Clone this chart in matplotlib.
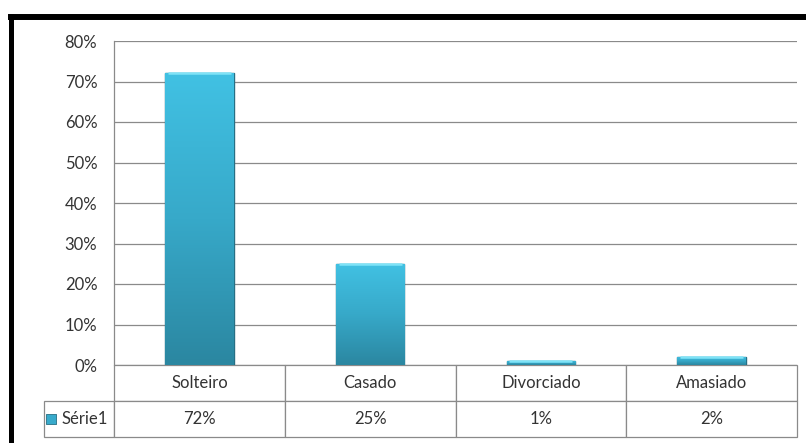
import numpy as np
import matplotlib.pyplot as plt
from matplotlib.colors import LinearSegmentedColormap
from matplotlib.lines import Line2D

plt.rcParams["font.family"] = ["Lato", "DejaVu Sans"]

# =========================
# DATA
# =========================

categories = ["Solteiro", "Casado", "Divorciado", "Amasiado"]
values = [72, 25, 1, 2]
value_labels = ["72%", "25%", "1%", "2%"]
series_name = "Série1"
y_ticks = [0, 10, 20, 30, 40, 50, 60, 70, 80]

# =========================
# FIGURE
# =========================

W, H = 806, 443
fig = plt.figure(figsize=(W / 100, H / 100), dpi=100)

ax_left, ax_top, ax_right, ax_bottom = 114, 41, 797, 365
ax = fig.add_axes([
    ax_left / W,
    1 - ax_bottom / H,
    (ax_right - ax_left) / W,
    (ax_bottom - ax_top) / H
])

grid_col = "#8a8a8a"
text_col = "#333333"

x = np.arange(len(categories))
bars = ax.bar(x, values, width=0.4, color="#3cb8da",
              edgecolor="#276f84", linewidth=1.0, zorder=3)

# vertical gradient on each bar
grad = LinearSegmentedColormap.from_list(
    "bar_grad", ["#2b87a1", "#37a9c9", "#41c1e3"]
)
for b in bars:
    x0, y0 = b.get_x(), b.get_y()
    w, h = b.get_width(), b.get_height()
    img = ax.imshow(
        np.linspace(0, 1, 100).reshape(-1, 1),
        cmap=grad, aspect="auto", origin="lower",
        extent=[x0, x0 + w, y0, y0 + h], zorder=3.5
    )
    img.set_clip_path(b)
    # light bevel along the top edge
    ax.plot([x0 + w * 0.04, x0 + w * 0.96], [y0 + h, y0 + h],
            color="#7fe3f7", linewidth=1.8, zorder=4,
            solid_capstyle="butt")

ax.set_xlim(-0.5, len(categories) - 0.5)
ax.set_ylim(0, 80)
ax.set_yticks(y_ticks)
ax.set_yticklabels([f"{t}%" for t in y_ticks])
ax.tick_params(axis="y", length=0, pad=12, labelsize=12, labelcolor=text_col)
ax.set_xticks([])

ax.yaxis.grid(True, color=grid_col, linewidth=0.9, zorder=0)
ax.set_axisbelow(True)
for side in ["top", "right", "bottom"]:
    ax.spines[side].set_visible(False)
ax.spines["left"].set_color(grid_col)
ax.spines["left"].set_linewidth(0.9)

# =========================
# DATA TABLE
# =========================

tab_left, tab_bottom = 42, 437
col_w = 0.25
label_w = (ax_left - tab_left) / (ax_right - ax_left)
ax_h = ax_bottom - ax_top
# bbox only covers the value columns, the row label hangs off to the left
bbox = [0, -(tab_bottom - ax_bottom) / ax_h, 1, (tab_bottom - ax_bottom) / ax_h]

tbl = ax.table(
    cellText=[value_labels],
    rowLabels=[series_name],
    colLabels=categories,
    colWidths=[col_w] * len(categories),
    cellLoc="center",
    rowLoc="left",
    bbox=bbox
)
label_cell = tbl[1, -1]
label_cell.set_width(label_w)
tbl.auto_set_font_size(False)
tbl.set_fontsize(12)
for (r, c), cell in tbl.get_celld().items():
    cell.set_edgecolor(grid_col)
    cell.set_linewidth(0.9)
    cell.get_text().set_color(text_col)
label_cell.PAD = 0.25

# stretch the row label cell so it starts at tab_left
fig.canvas.draw()
ext = label_cell.get_window_extent(fig.canvas.get_renderer())
label_cell.set_width(label_cell.get_width() * (ax_left - tab_left) / ext.width)
fig.canvas.draw()
ext = label_cell.get_window_extent(fig.canvas.get_renderer())

# legend key inside the row label cell
key_x = ext.x0 + 7
key_y = (ext.y0 + ext.y1) / 2
ax.scatter([key_x / W], [key_y / H], marker="s", s=45,
           color="#38aacb", edgecolors="#276f84", linewidths=0.6,
           transform=fig.transFigure, clip_on=False, zorder=6)

# =========================
# OUTER FRAME
# =========================

fig.add_artist(Line2D([8 / W, 1], [1 - 17 / H, 1 - 17 / H],
                      color="black", linewidth=4.3,
                      transform=fig.transFigure, solid_capstyle="butt"))
fig.add_artist(Line2D([10.5 / W, 10.5 / W], [0, 1 - 14 / H],
                      color="black", linewidth=3.6,
                      transform=fig.transFigure, solid_capstyle="butt"))

fig.savefig("out.png", dpi=100)
